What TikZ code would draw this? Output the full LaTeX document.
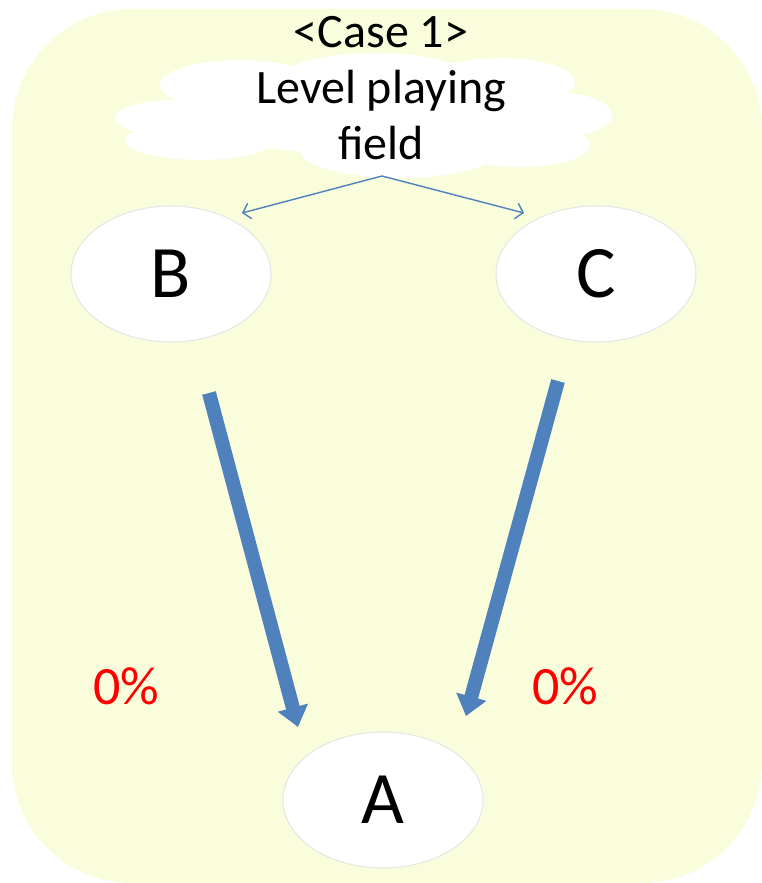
\documentclass[tikz,border=0pt]{standalone}
\usepackage{fontspec}
\setmainfont{Carlito}
\usetikzlibrary{arrows.meta,shapes.geometric}
\definecolor{bgyellow}{RGB}{250,253,220}
\definecolor{arrowblue}{RGB}{79,129,189}
\pgfdeclareradialshading{pebbleshade}{\pgfpoint{0bp}{0bp}}{%
  color(0bp)=(white); color(30bp)=(white); color(42bp)=(black!5); color(48bp)=(black!14); color(50bp)=(black!24); color(100bp)=(black!24)}
\tikzset{
  pebble/.style={ellipse, minimum width=200pt, minimum height=136pt, shading=pebbleshade, draw=black!10, line width=1pt, inner sep=0pt, font=\fontsize{74}{80}\selectfont},
  lobe/.style={fill=white, draw=none},
  thin arrow/.style={draw=arrowblue, line width=1.4pt, -{Straight Barb[length=7pt,width=16pt]}},
  thick arrow/.style={draw=arrowblue, line width=14pt, -{Triangle[length=20pt,width=30pt]}},
  pct/.style={text=red, font=\fontsize{54}{60}\selectfont}
}
\begin{document}
\begin{tikzpicture}[x=1pt,y=-1pt]
\useasboundingbox (0,0) rectangle (762,883);
% background
\fill[bgyellow, rounded corners=120pt] (12,9) rectangle (762,883);
% cloud lobes
\foreach \cx/\cy/\rx/\ry in {380/115/200/40, 240/85/80/25, 375/78/95/25, 500/82/75/24, 175/118/60/18, 200/140/75/20, 560/115/52/22, 400/150/100/28, 520/145/70/22}
  \fill[lobe] (\cx,\cy) ellipse [x radius=\rx pt, y radius=\ry pt];
\node[align=center, font=\fontsize{48}{56}\selectfont] (cloud) at (381,88) {<Case 1>\\Level playing\\field};
\coordinate (cloudfoot) at (382,176);
% pebbles
\node[pebble] (B) at (171,274) {B};
\node[pebble] (C) at (596,274) {C};
\node[pebble] (A) at (383,800) {A};
% thin arrows
\coordinate (bin) at (242,213);
\coordinate (cin) at (524,213);
\draw[thin arrow] (cloudfoot) -- (bin);
\draw[thin arrow] (cloudfoot) -- (cin);
% thick arrows
\coordinate (bout) at (209,393);
\coordinate (ainl) at (298,727);
\coordinate (cout) at (558,381);
\coordinate (ainr) at (466,716);
\draw[thick arrow] (bout) -- (ainl);
\draw[thick arrow] (cout) -- (ainr);
% labels
\node[pct] (pl) at (126,686) {0\%};
\node[pct] (pr) at (565,686) {0\%};
\end{tikzpicture}
\end{document}
